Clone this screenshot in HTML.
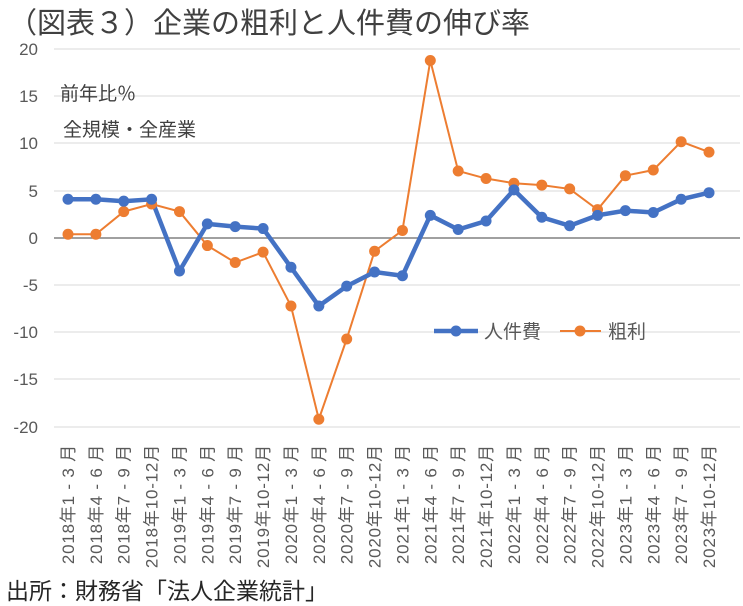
<!DOCTYPE html>
<html><head><meta charset="utf-8"><style>
html,body{margin:0;padding:0;background:#fff;width:743px;height:606px;overflow:hidden}
svg{display:block;font-family:"Liberation Sans","Noto Sans CJK JP",sans-serif}
</style></head><body>
<svg width="743" height="606" viewBox="0 0 743 606" xmlns="http://www.w3.org/2000/svg">
<text x="8" y="33" font-size="29" fill="#404040">（図表３）企業の粗利と人件費の伸び率</text>
<g stroke="#d9d9d9" stroke-width="1">
<line x1="54" y1="49" x2="740" y2="49"/><line x1="54" y1="96" x2="740" y2="96"/><line x1="54" y1="143" x2="740" y2="143"/><line x1="54" y1="191" x2="740" y2="191"/><line x1="54" y1="285" x2="740" y2="285"/><line x1="54" y1="332" x2="740" y2="332"/><line x1="54" y1="379" x2="740" y2="379"/><line x1="54" y1="427" x2="740" y2="427"/>
</g>
<line x1="54" y1="238" x2="740" y2="238" stroke="#808080" stroke-width="1.5"/>
<g font-size="17" fill="#595959" text-anchor="end">
<text x="38" y="55">20</text><text x="38" y="102">15</text><text x="38" y="149">10</text><text x="38" y="197">5</text><text x="38" y="244">0</text><text x="38" y="291">-5</text><text x="38" y="338">-10</text><text x="38" y="385">-15</text><text x="38" y="433">-20</text>
</g>
<text x="60" y="100" font-size="19" fill="#404040">前年比％</text>
<text x="63" y="136" font-size="19" fill="#404040">全規模・全産業</text>
<g id="labels" font-size="17" letter-spacing="0.8" fill="#595959" text-anchor="end"></g>
<polyline id="o" fill="none" stroke="#ed7d31" stroke-width="2"/>
<polyline id="b" fill="none" stroke="#4472c4" stroke-width="4.5"/>
<g id="pts"></g>
<line x1="434" y1="331" x2="478" y2="331" stroke="#4472c4" stroke-width="4.5"/><circle cx="456" cy="331" r="5.5" fill="#4472c4"/>
<text x="484" y="338" font-size="19" fill="#595959">人件費</text>
<line x1="560" y1="331" x2="601" y2="331" stroke="#ed7d31" stroke-width="2"/><circle cx="580" cy="331" r="5.5" fill="#ed7d31"/>
<text x="608" y="338" font-size="19" fill="#595959">粗利</text>
<text x="6" y="599" font-size="23" fill="#262626">出所：財務省「法人企業統計」</text>
<script>
var b=[4.1,4.1,3.9,4.1,-3.5,1.5,1.2,1.0,-3.1,-7.2,-5.1,-3.6,-4.0,2.4,0.9,1.8,5.1,2.2,1.3,2.4,2.9,2.7,4.1,4.8];
var o=[0.4,0.4,2.8,3.6,2.8,-0.8,-2.6,-1.5,-7.2,-19.2,-10.7,-1.4,0.8,18.8,7.1,6.3,5.8,5.6,5.2,3.0,6.6,7.2,10.2,9.1];
var q=["1 - 3 月","4 - 6 月","7 - 9 月","10-12月"];
function X(i){return 68+i*27.87}function Y(v){return 238-v*9.44}
var ns="http://www.w3.org/2000/svg",bp=[],op=[],pts=document.getElementById('pts'),lab=document.getElementById('labels');
for(var i=0;i<24;i++){bp.push(X(i)+","+Y(b[i]));op.push(X(i)+","+Y(o[i]));
var t=document.createElementNS(ns,'text');var x=X(i)+6,y=444;t.setAttribute('x',x);t.setAttribute('y',y);t.setAttribute('transform','rotate(-90 '+x+' '+y+')');t.textContent=(2018+Math.floor(i/4))+"年"+q[i%4];lab.appendChild(t);}
document.getElementById('b').setAttribute('points',bp.join(' '));document.getElementById('o').setAttribute('points',op.join(' '));
for(var i=0;i<24;i++){[[o,'#ed7d31'],[b,'#4472c4']].forEach(function(s){var c=document.createElementNS(ns,'circle');c.setAttribute('cx',X(i));c.setAttribute('cy',Y(s[0][i]));c.setAttribute('r',5.5);c.setAttribute('fill',s[1]);pts.appendChild(c);});}
</script>
</svg>
</body></html>
